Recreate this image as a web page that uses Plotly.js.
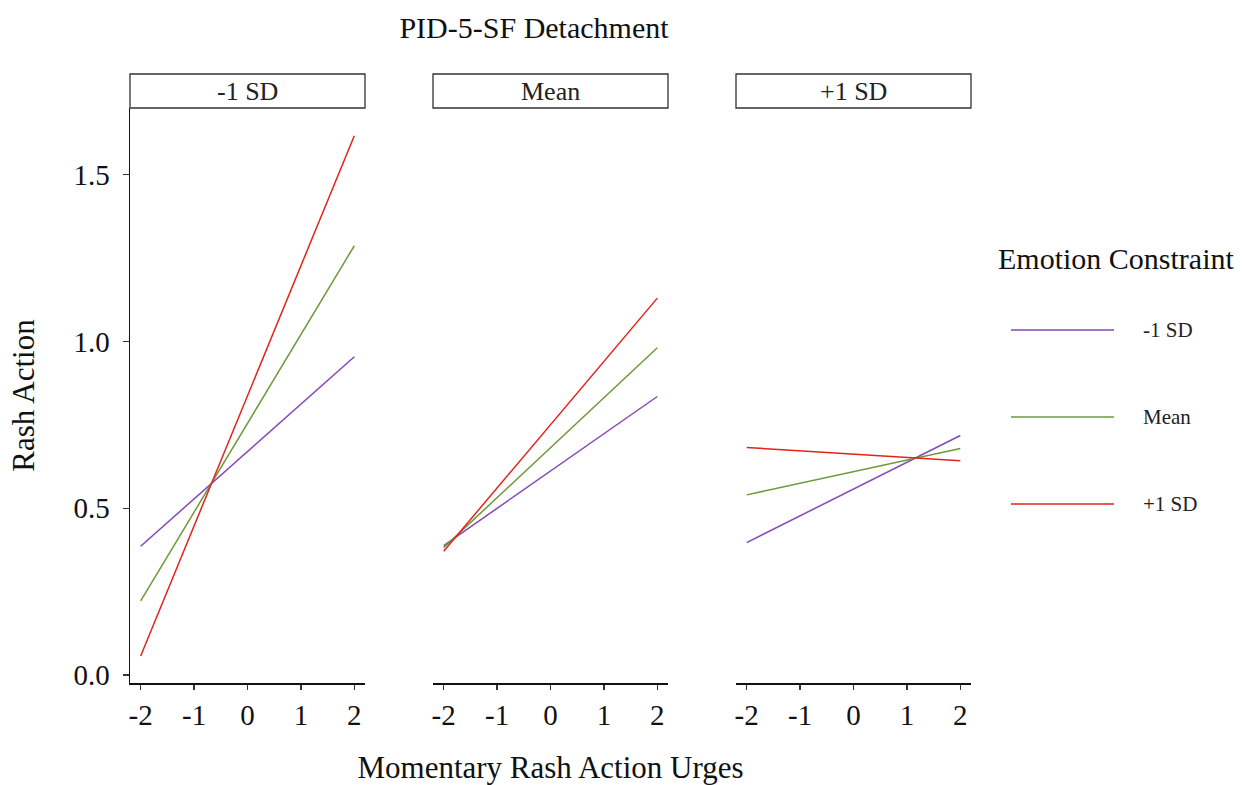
<!DOCTYPE html>
<html>
<head>
<meta charset="utf-8">
<script src="https://cdn.plot.ly/plotly-3.0.1.min.js"></script>
<style>html,body{margin:0;padding:0;background:#fff;}#chart{width:1243px;height:785px;}</style>
</head>
<body>
<div id="chart"></div>
<script>
// ---- data ----
const xUrges = [-2, 2];
const xTicks = [-2, -1, 0, 1, 2];
const xTickLabels = ['-2', '-1', '0', '1', '2'];
const yTicks = [0, 0.5, 1.0, 1.5];
const yTickLabels = ['0.0', '0.5', '1.0', '1.5'];
const panelLabels = ['-1 SD', 'Mean', '+1 SD'];          // PID-5-SF Detachment levels
const groupLabels = ['-1 SD', 'Mean', '+1 SD'];          // Emotion Constraint levels
const groupColors = ['#8447B8', '#6C9A38', '#E2231B'];

// Panel "-1 SD" detachment
const lowDet_lowEC  = [0.386, 0.954];
const lowDet_meanEC = [0.222, 1.287];
const lowDet_highEC = [0.057, 1.617];
// Panel "Mean" detachment
const meanDet_lowEC  = [0.388, 0.835];
const meanDet_meanEC = [0.382, 0.981];
const meanDet_highEC = [0.371, 1.130];
// Panel "+1 SD" detachment
const highDet_lowEC  = [0.397, 0.718];
const highDet_meanEC = [0.540, 0.679];
const highDet_highEC = [0.682, 0.642];

const panelSeries = [
  [lowDet_lowEC, lowDet_meanEC, lowDet_highEC],
  [meanDet_lowEC, meanDet_meanEC, meanDet_highEC],
  [highDet_lowEC, highDet_meanEC, highDet_highEC]
];

// ---- layout helpers ----
const W = 1243, H = 785;
const px = v => v / W;
const py = v => 1 - v / H;
const FONT = 'Liberation Serif, Times New Roman, serif';
const panelPx = [[130, 365], [433, 668], [736, 971]];
const plotTop = 108, plotBottom = 683, stripTop = 74;

const traces = [];
panelSeries.forEach((series, p) => {
  const suffix = p === 0 ? '' : String(p + 1);
  series.forEach((yv, g) => {
    traces.push({
      x: xUrges, y: yv, type: 'scatter', mode: 'lines',
      xaxis: 'x' + suffix, yaxis: 'y' + suffix,
      name: groupLabels[g], showlegend: false,
      line: {color: groupColors[g], width: 1.5},
      hoverinfo: 'x+y+name'
    });
  });
});

const layout = {
  width: W, height: H,
  margin: {l: 0, r: 0, t: 0, b: 0},
  paper_bgcolor: '#fff', plot_bgcolor: '#fff',
  font: {family: FONT, color: '#111', size: 24},
  showlegend: false,
  title: {text: 'PID-5-SF Detachment', x: px(534), xanchor: 'center', y: py(27), yanchor: 'middle',
          font: {family: FONT, size: 30, color: '#111'}},
  shapes: [], annotations: []
};

const yRange = [-0.024, 1.70];
const xRange = [-2.2, 2.2];
panelPx.forEach((d, p) => {
  const suffix = p === 0 ? '' : String(p + 1);
  layout['xaxis' + suffix] = {
    domain: [px(d[0]), px(d[1])], range: xRange, anchor: 'y' + suffix,
    tickvals: xTicks, ticktext: xTickLabels, ticks: 'outside', ticklen: 5, tickwidth: 1.3,
    ticklabelstandoff: 1,
    tickcolor: '#333', showline: true, linecolor: '#111', linewidth: 1.5,
    showgrid: false, zeroline: false, fixedrange: true,
    tickfont: {family: FONT, size: 29, color: '#111'},
    title: p === 1 ? {text: 'Momentary Rash Action Urges', font: {family: FONT, size: 31, color: '#111'}, standoff: 26} : {text: ''}
  };
  layout['yaxis' + suffix] = {
    domain: [py(plotBottom), py(plotTop)], range: yRange, anchor: 'x' + suffix,
    tickvals: yTicks, ticktext: yTickLabels,
    ticks: p === 0 ? 'outside' : '', ticklen: 6, tickwidth: 1.3, tickcolor: '#333',
    ticklabelstandoff: 7,
    showticklabels: p === 0, showline: p === 0, linecolor: '#111', linewidth: 1.5,
    showgrid: false, zeroline: false, fixedrange: true,
    tickfont: {family: FONT, size: 29, color: '#111'},
    title: p === 0 ? {text: 'Rash Action', font: {family: FONT, size: 31, color: '#111'}, standoff: 29} : {text: ''}
  };
  // strip box
  layout.shapes.push({type: 'rect', xref: 'paper', yref: 'paper',
    x0: px(d[0]), x1: px(d[1]), y0: py(plotTop), y1: py(stripTop),
    line: {color: '#333', width: 1.3}, fillcolor: '#fff'});
  layout.annotations.push({xref: 'paper', yref: 'paper', x: px((d[0] + d[1]) / 2), y: py(92),
    xanchor: 'center', yanchor: 'middle', showarrow: false, text: panelLabels[p],
    font: {family: FONT, size: 26, color: '#222'}});
});

// legend (drawn manually)
layout.annotations.push({xref: 'paper', yref: 'paper', x: px(996), y: py(259), xanchor: 'left', yanchor: 'middle',
  showarrow: false, text: 'Emotion Constraint', font: {family: FONT, size: 30, color: '#111'}});
const legY = [330, 417, 504];
groupLabels.forEach((lab, g) => {
  layout.shapes.push({type: 'line', xref: 'paper', yref: 'paper', x0: px(1011), x1: px(1114),
    y0: py(legY[g]), y1: py(legY[g]), line: {color: groupColors[g], width: 1.5}});
  layout.annotations.push({xref: 'paper', yref: 'paper', x: px(1141), y: py(legY[g]), xanchor: 'left', yanchor: 'middle',
    showarrow: false, text: lab, font: {family: FONT, size: 21, color: '#222'}});
});

Plotly.newPlot('chart', traces, layout, {displayModeBar: false, staticPlot: true});
</script>
</body>
</html>
